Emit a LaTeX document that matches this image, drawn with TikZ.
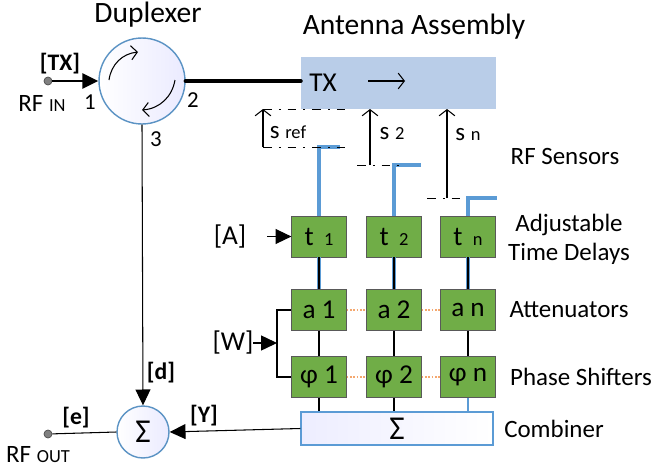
\documentclass[tikz,border=0pt]{standalone}
\usepackage{fontspec}
\setmainfont{Carlito}
\usetikzlibrary{arrows.meta}
\definecolor{boxgreen}{HTML}{70AD47}
\definecolor{wireblue}{HTML}{5B9BD5}
\definecolor{panelblue}{HTML}{B9CDE8}
\definecolor{ringblue}{HTML}{5B93C4}
\definecolor{dotorange}{HTML}{F4A870}
\newcommand{\subsize}{\fontsize{10.5}{12}\selectfont}
\tikzset{
	label14/.style={font=\fontsize{14.2}{16.5}\selectfont, inner sep=0pt},
	labelbold/.style={font=\fontsize{13.5}{15}\selectfont\bfseries, inner sep=0pt},
	cell/.style={draw=black!65, fill=boxgreen, minimum width=1.09cm, minimum height=0.82cm, inner sep=0pt, font=\fontsize{15.5}{17}\selectfont},
	ring/.style={circle, draw=ringblue, thick, left color=white, right color=blue!8, inner sep=0pt},
	port/.style={circle, draw=black!70, fill=black!50, minimum size=0.16cm, inner sep=0pt},
	fedwire/.style={wireblue, line width=1.9pt},
	sensorline/.style={thin, dash pattern=on 5pt off 4pt on 1pt off 4pt},
	openarrow/.style={-{Straight Barb[length=3.5pt,width=9pt]}, semithick},
	solidarrow/.style={-{Triangle[length=9pt,width=8.5pt]}, semithick}
}
\begin{document}
\begin{tikzpicture}[x=0.02cm, y=-0.02cm]
	\useasboundingbox (0,0) rectangle (652,470);

	% duplexer and antenna
	\node[ring, minimum size=1.72cm] (dup) at (142,81) {};
	\node[fill=panelblue, minimum width=3.9cm, minimum height=1.04cm, inner sep=0pt] (ant) at (398.5,83) {};
	\node[label14, font=\fontsize{15.5}{17}\selectfont] (txlabel) at (323,83) {TX};
	\coordinate (txa) at (368,81);
	\coordinate (txb) at (405,81);
	\draw[-{Straight Barb[length=3.5pt,width=9pt]}, semithick] (txa) -- (txb);
	\draw[line width=2.4pt, line cap=round] (dup.east) -- (dup.east -| ant.west);
	\coordinate (ca) at (109,80);
	\coordinate (cb) at (138,52);
	\draw[-{Straight Barb[length=3.5pt,width=8pt]}, semithick] (ca) to[bend left=38] (cb);
	\coordinate (cc) at (175,80);
	\coordinate (cd) at (142,110);
	\draw[-{Straight Barb[length=3.5pt,width=8pt]}, semithick] (cc) to[bend left=38] (cd);
	\node[port] (rfin) at (48,81) {};
	\draw[solidarrow, line width=1.4pt] (rfin) -- (dup.west);

	% cells
	\foreach \n/\x/\t/\a/\p in {1/319/t {\subsize\ 1}/a 1/φ 1, 2/394/t {\subsize\ 2}/a 2/φ 2, 3/468/t {\subsize\ n}/a n/φ n}
	{
		\node[cell] (t\n) at (\x,236.5) {\t};
		\node[cell] (a\n) at (\x,310) {\a};
		\node[cell] (p\n) at (\x,377) {\p};
	}
	\node[draw=wireblue, thick, left color=blue!7, right color=white, minimum width=3.84cm, minimum height=0.66cm, inner sep=0pt, font=\fontsize{19}{20}\selectfont] (comb) at (397,428.5) {Σ};

	% sensor tees
	\coordinate (e1) at (340,147);
	\coordinate (e2) at (421,165);
	\coordinate (e3) at (497,198);
	\foreach \n in {1,2,3}
	{
		\draw[fedwire] (t\n.north) |- (e\n);
		\draw[fedwire] (t\n.south) -- (a\n.north);
		\draw[line width=0.7pt] (t\n.south) -- (a\n.north);
		\draw[line width=0.7pt] (a\n.south) -- (p\n.north);
	}
	\draw[line width=0.7pt] (p1.south) -- (p1.south |- comb.north);
	\draw[line width=0.7pt] (p2.south) -- (p2.south |- comb.north);
	\draw[wireblue, line width=0.8pt] (p3.south) -- (p3.south |- comb.north);

	% orange links
	\foreach \i/\j in {1/2, 2/3}
	{
		\draw[dotorange, densely dotted, line width=0.9pt] (a\i) -- (a\j);
		\draw[dotorange, densely dotted, line width=0.9pt] (p\i) -- (p\j);
	}

	% sensor spacing
	\coordinate (r1) at (263,109);
	\coordinate (r2) at (263,147);
	\coordinate (r3) at (345,109);
	\coordinate (r4) at (345,147);
	\draw[sensorline] (r1) -- (r3);
	\draw[sensorline] (r2) -- (r4);
	\draw[openarrow] (r2) -- (r1);
	\coordinate (s2a) at (370,165);
	\coordinate (s2b) at (370,109);
	\coordinate (s2c) at (357,165);
	\coordinate (s2d) at (403,165);
	\draw[sensorline] (s2c) -- (s2d);
	\draw[openarrow] (s2a) -- (s2b);
	\coordinate (sna) at (447,198);
	\coordinate (snb) at (447,109);
	\coordinate (snc) at (427,198);
	\coordinate (snd) at (465,198);
	\draw[sensorline] (snc) -- (snd);
	\draw[openarrow] (sna) -- (snb);

	% control inputs
	\coordinate (aport) at (267,236.5);
	\draw[solidarrow] (aport) -- (t1.west);
	\coordinate (wbus) at (277,343);
	\coordinate (wport) at (253,343);
	\draw[semithick] (a1.west) -| (wbus) |- (p1.west);
	\draw[solidarrow] (wport) -- (wbus);

	% output summer
	\node[ring, minimum size=1.04cm, font=\fontsize{19}{20}\selectfont] (sum) at (143,432) {Σ};
	\node[port] (rfout) at (48,434) {};
	\draw[semithick] (rfout) -- (sum.west);
	\draw[solidarrow] (dup.south) -- (sum.north);
	\draw[solidarrow] (comb.west) -- (sum.east);

	% texts
	\node[label14, font=\fontsize{16.8}{19}\selectfont] (duplabel) at (148,15) {Duplexer};
	\node[label14, font=\fontsize{16.8}{19}\selectfont] (antlabel) at (414,27) {Antenna Assembly};
	\node[labelbold] (txtag) at (60,64) {[TX]};
	\node[label14] (inlabel) at (42,103) {RF {\subsize IN}};
	\node[label14, font=\fontsize{13}{15}\selectfont] (p1label) at (90,102) {1};
	\node[label14, font=\fontsize{13}{15}\selectfont] (p2label) at (193,100) {2};
	\node[label14, font=\fontsize{13}{15}\selectfont] (p3label) at (156,139) {3};
	\node[label14] (srefl) at (288,132) {s {\subsize ref}};
	\node[label14] (s2l) at (392,134) {s {\subsize 2}};
	\node[label14] (snl) at (468,135) {s {\subsize n}};
	\node[label14] (sensl) at (565,156) {RF Sensors};
	\node[label14, align=center] (delayl) at (569,239) {Adjustable\\Time Delays};
	\node[label14] (attl) at (569,310) {Attenuators};
	\node[label14] (phl) at (581,377) {Phase Shifters};
	\node[label14] (coml) at (554,429) {Combiner};
	\node[label14, font=\fontsize{15.5}{17}\selectfont] (atag) at (230,237) {[A]};
	\node[label14, font=\fontsize{15.5}{17}\selectfont] (wtag) at (233,343) {[W]};
	\node[labelbold] (dtag) at (161,373) {[d]};
	\node[labelbold] (etag) at (76,418) {[e]};
	\node[labelbold] (ytag) at (204,416) {[Y]};
	\node[label14] (outlabel) at (38,455) {RF {\subsize OUT}};
\end{tikzpicture}
\end{document}
